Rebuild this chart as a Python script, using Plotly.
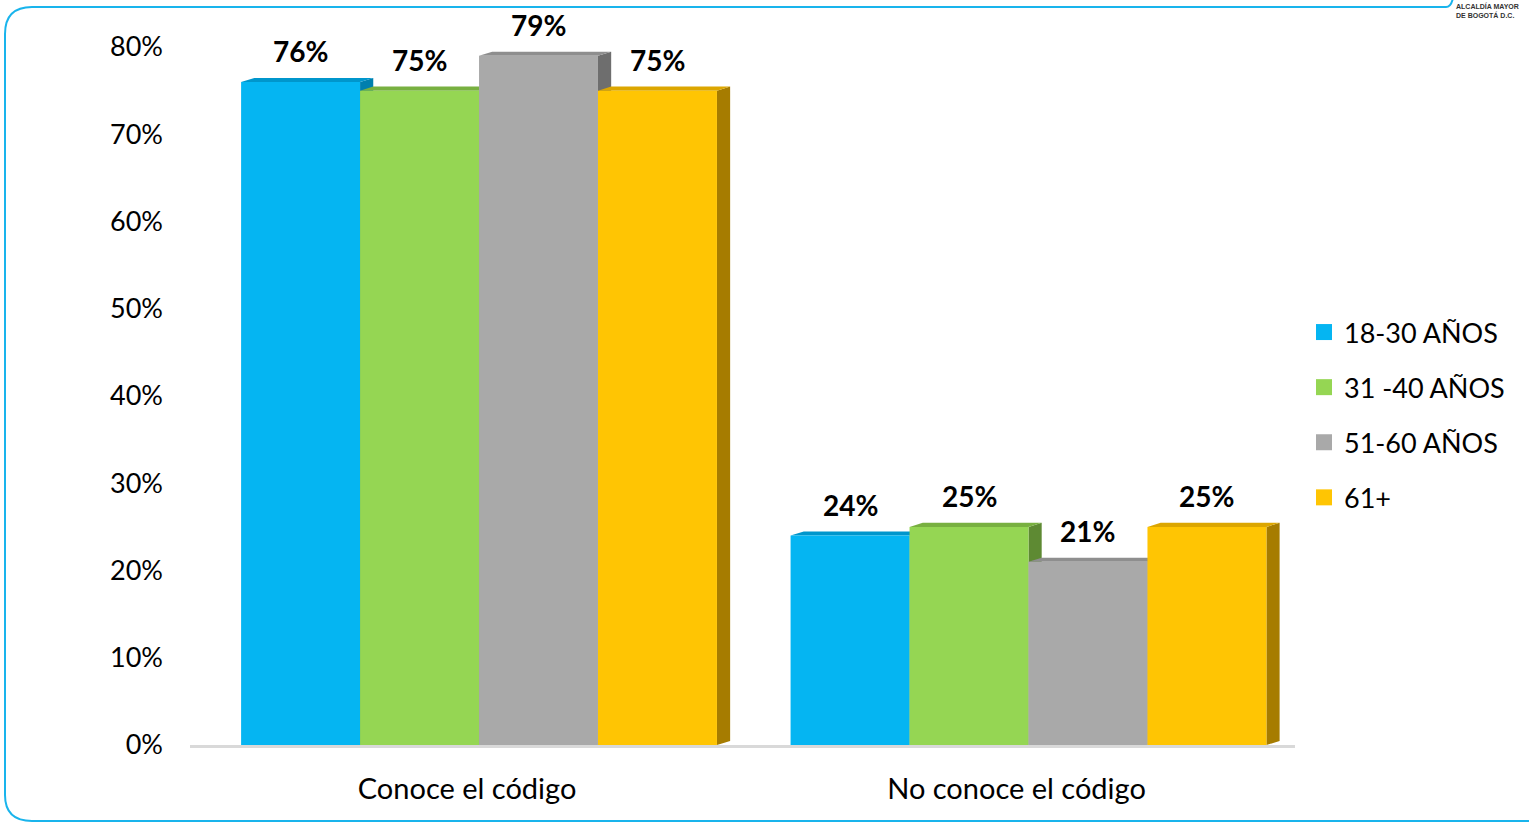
import plotly.graph_objects as go

categories = ["Conoce el código", "No conoce el código"]
series_names = ["18-30 AÑOS", "31 -40 AÑOS", "51-60 AÑOS", "61+"]
values_18_30 = [76, 24]
values_31_40 = [75, 25]
values_51_60 = [79, 21]
values_61 = [75, 25]
series_values = [values_18_30, values_31_40, values_51_60, values_61]

front_colors = ["#05B5F2", "#95D653", "#A9A9A9", "#FFC503"]
top_colors = ["#0096CC", "#78B040", "#8E8E8E", "#DCA600"]
side_colors = ["#007FAE", "#5E8A33", "#6E6E6E", "#A67C00"]

FONT = "Lato"
BARGAP = 0.134
N = len(series_names)
W = (1 - BARGAP) / N
DX = 0.024   # depth offset in x (data units)
DY = 0.46    # depth offset in y (data units)

# plot area geometry in pixels
WID, HGT = 1529, 822
L, T = 190, 47
PW, PH = 1105, 698
R = WID - L - PW
B = HGT - T - PH


def PX(px):
    return (px - L) / PW


def PY(py):
    return (HGT - B - py) / PH


fig = go.Figure()
xpos = list(range(len(categories)))

for i, (name, vals) in enumerate(zip(series_names, series_values)):
    fig.add_trace(go.Bar(
        x=xpos, y=vals, name=name, marker=dict(color=front_colors[i], line=dict(width=0)),
        showlegend=False, hoverinfo="skip"))
    fig.add_trace(go.Scatter(
        x=[None], y=[None], mode="markers", name=name, legendgroup=name,
        marker=dict(symbol="square", size=18, color=front_colors[i])))

shapes = []
annotations = []
for j in xpos:
    for i in range(N):
        v = series_values[i][j]
        xl = j - (1 - BARGAP) / 2 + i * W
        xr = xl + W
        side = f"M {xr},0 L {xr},{v} L {xr+DX},{v+DY} L {xr+DX},{DY} Z"
        top = f"M {xl},{v} L {xr},{v} L {xr+DX},{v+DY} L {xl+DX},{v+DY} Z"
        shapes.append(dict(type="path", path=side, xref="x", yref="y", layer="below",
                           fillcolor=side_colors[i], line=dict(width=0)))
        shapes.append(dict(type="path", path=top, xref="x", yref="y", layer="below",
                           fillcolor=top_colors[i], line=dict(width=0)))
        annotations.append(dict(x=(xl + xr) / 2, y=v, xref="x", yref="y", text=f"<b>{v}%</b>",
                                showarrow=False, yanchor="middle", yshift=31,
                                font=dict(family=FONT, size=28, color="#000")))

# rounded frame
frame = (f"M {PX(1446)},{PY(7)} L {PX(32)},{PY(7)} Q {PX(5)},{PY(7)} {PX(5)},{PY(34)} "
         f"L {PX(5)},{PY(795)} Q {PX(5)},{PY(821)} {PX(32)},{PY(821)} L {PX(1560)},{PY(821)}")
frame_top_right = f"M {PX(1446)},{PY(7)} Q {PX(1451)},{PY(7)} {PX(1453)},{PY(-2)}"
shapes.append(dict(type="path", path=frame, xref="paper", yref="paper", layer="above",
                   line=dict(color="#19B4EC", width=2)))
shapes.append(dict(type="path", path=frame_top_right, xref="paper", yref="paper", layer="above",
                   line=dict(color="#19B4EC", width=2)))

annotations.append(dict(x=PX(1455), y=PY(1.5), xref="paper", yref="paper", xanchor="left",
                        yanchor="top", align="left",
                        text="<b>ALCALDÍA MAYOR<br>DE BOGOTÁ D.C.</b>", showarrow=False,
                        borderpad=0,
                        font=dict(family="Liberation Sans", size=7, color="#333")))

fig.update_layout(
    width=WID, height=HGT,
    margin=dict(l=L, r=R, t=T, b=B, autoexpand=False),
    paper_bgcolor="white", plot_bgcolor="white",
    barmode="group", bargap=BARGAP, bargroupgap=0,
    font=dict(family=FONT, size=27, color="#000"),
    shapes=shapes, annotations=annotations,
    legend=dict(x=PX(1304), y=PY(308), xanchor="left", yanchor="top",
                tracegroupgap=17, font=dict(family=FONT, size=27, color="#000"),
                bgcolor="rgba(0,0,0,0)"),
    xaxis=dict(range=[-0.526, 1.485], tickvals=xpos, ticktext=categories,
               showgrid=False, zeroline=False, showline=True, linecolor="#D9D9D9",
               linewidth=3, ticks="", ticklabelstandoff=16, ticklabelshift=-12,
               tickfont=dict(family=FONT, size=29, color="#000"), fixedrange=True),
    yaxis=dict(range=[0, 80], tickvals=list(range(0, 81, 10)),
               ticktext=[f"{t}%" for t in range(0, 81, 10)],
               showgrid=False, zeroline=False, showline=False, ticks="",
               ticklabelstandoff=26, tickfont=dict(family=FONT, size=27, color="#000"),
               fixedrange=True),
)

fig.write_html("out.html", config={"displayModeBar": False},
               post_script="document.body.style.margin='0';")
